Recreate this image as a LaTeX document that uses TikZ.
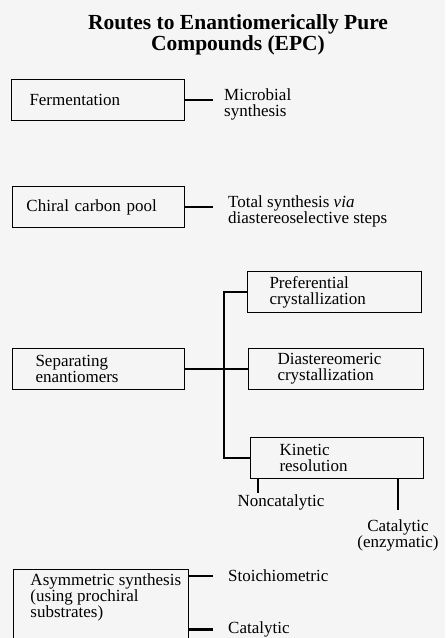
\documentclass[tikz,border=0pt]{standalone}
\usepackage{fontspec}
\setmainfont{Liberation Serif}

\begin{document}
\begin{tikzpicture}[x=1pt,y=-1pt,font=\fontsize{17}{16}\selectfont,
    box/.style={draw,line width=1pt,minimum height=41pt,align=left,inner ysep=2pt,anchor=north west},
    leaf/.style={align=left,inner sep=0pt},
    link/.style={line width=2.8pt}]
  \useasboundingbox (0,0) rectangle (445,638);
  \fill[black!4] (0,0) rectangle (445,638);
  \clip (0,0) rectangle (445,638);

  \node[font=\bfseries\fontsize{21.5}{21}\selectfont,align=center] (title) at (238,34.5)
    {Routes to Enantiomerically Pure\\Compounds (EPC)};

  % routes on the left
  \node[box,text width=137pt,inner xsep=18pt] (ferm) at (11,79) {Fermentation};
  \node[box,text width=144pt,inner xsep=14pt] (chiral) at (12,186) {Chiral carbon pool};
  \node[box,text width=126pt,inner xsep=23pt] (sep) at (12,348) {Separating\\enantiomers};
  \node[box,inner xsep=17pt,inner ysep=4pt] (asym) at (13,569)
    {\parbox[c][78pt][t]{141pt}{\mbox{Asymmetric synthesis}\\(using prochiral\\substrates)}};

  % ways of separating
  \node[box,text width=130pt,inner xsep=22pt] (pref) at (247,271) {Preferential\\crystallization};
  \node[box,text width=117pt,inner xsep=29pt] (diast) at (248,348) {Diastereomeric\\crystallization};
  \node[box,text width=115pt,inner xsep=29pt] (kin) at (250,437) {Kinetic\\resolution};

  % plain labels
  \node[leaf,anchor=west] (microbial) at (224,104) {Microbial\\synthesis};
  \node[leaf,anchor=west] (totalsyn) at (228,211) {Total synthesis \textit{via}\\diastereoselective steps};
  \node[leaf] (noncat) at (281,502) {Noncatalytic};
  \node[leaf,align=center] (catenz) at (398,535) {Catalytic\\(enzymatic)};
  \node[leaf,anchor=west] (stoich) at (228,576) {Stoichiometric};
  \node[leaf,anchor=west] (catal) at (228,629.5) {Catalytic};

  \coordinate (fork) at (224,368.5);
  \coordinate (ncfoot) at (258,493);

  \draw[link,shorten >=11pt] (ferm.east) -- (ferm.east -| microbial.west);
  \draw[link,shorten >=15pt] (chiral.east) -- (chiral.east -| totalsyn.west);
  \draw[link] (sep.east) -- (diast.west);
  \draw[link] (pref.west) -| (fork) |- (kin.west);
  \draw[link] (kin.south -| ncfoot) -- (ncfoot);
  \draw[link,shorten >=9pt] (kin.south -| catenz.north) -- (catenz.north);
  \draw[link,shorten >=15pt] (asym.east |- stoich.west) -- (stoich.west);
  \draw[link,shorten >=15pt] (asym.east |- catal.west) -- (catal.west);
\end{tikzpicture}
\end{document}
